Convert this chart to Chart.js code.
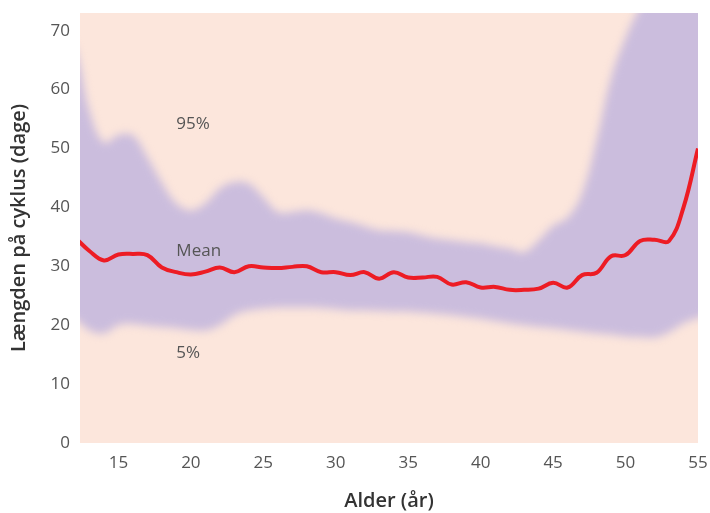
<!DOCTYPE html>
<html>
<head>
<meta charset="utf-8">
<script src="https://cdn.jsdelivr.net/npm/chart.js@4.4.0/dist/chart.umd.min.js"></script>
<style>
  html, body { margin: 0; padding: 0; background: #fff; }
</style>
</head>
<body>
<canvas id="cycleChart" width="710" height="513"></canvas>
<script>
// alder (år)
const ages = [11, 12, 13, 14, 15, 16, 17, 18, 19, 20, 21, 22, 23, 24, 25, 26, 27, 28, 29, 30,
  31, 32, 33, 34, 35, 36, 37, 38, 39, 40, 41, 42, 43, 44, 45, 46, 47, 48, 49, 50,
  51, 52, 53, 54, 55, 56];

// gennemsnitlig cykluslængde
const meanLength = [null, 34.9, 32.6, 31.0, 32.0, 32.1, 31.9, 29.8, 29.0, 28.6, 29.1, 29.8, 29.0, 30.0, 29.8, 29.7, 29.9, 30.0, 29.0, 29.0,
  28.5, 29.0, 27.9, 29.0, 28.1, 28.1, 28.2, 26.9, 27.3, 26.4, 26.5, 26.0, 26.0, 26.2, 27.2, 26.4, 28.5, 28.9, 31.7, 31.9,
  34.3, 34.5, 34.3, 40.0, 50.0, null];

// 95% percentil
const upper95 = [70, 67, 56.4, 51.0, 52.3, 52.2, 48.5, 44.2, 40.7, 39.5, 40.7, 43.2, 44.3, 44.0, 41.7, 39.2, 39.2, 39.5, 39.0, 38.1,
  37.5, 36.8, 36.1, 36.0, 35.8, 35.2, 34.7, 34.4, 34.1, 33.9, 33.4, 33.0, 32.4, 34.4, 36.9, 38.3, 42.4, 51.4, 62.0, 68.8,
  74, 78, 80, 80, 80, 80];

// 5% percentil
const lower5 = [21.5, 21.0, 19.1, 18.6, 20.0, 20.2, 19.9, 19.7, 19.5, 19.2, 19.1, 20.0, 21.7, 22.5, 22.8, 23.0, 23.0, 23.0, 22.9, 22.7,
  22.5, 22.5, 22.4, 22.3, 22.3, 22.1, 21.9, 21.7, 21.4, 21.1, 20.7, 20.3, 20.0, 19.7, 19.5, 19.2, 18.9, 18.6, 18.4, 18.1,
  18.0, 17.9, 18.8, 20.3, 21.2, 22];

const xTicks = [15, 20, 25, 30, 35, 40, 45, 50, 55];
const yTicks = [0, 10, 20, 30, 40, 50, 60, 70];

// tekst inde i plottet (x = alder, y = dage)
const bandLabels = [
  { text: "95%", x: 19, y: 54.1 },
  { text: "Mean", x: 19, y: 32.5 },
  { text: "5%", x: 19, y: 15.3 },
];

const toPoints = (arr) => ages.map((a, i) => ({ x: a, y: arr[i] }));

const fontFamily = "'Open Sans', sans-serif";
const tickColor = "#555";

const plotBackground = {
  id: "plotBackground",
  beforeDraw(chart) {
    const { ctx, chartArea } = chart;
    ctx.save();
    ctx.fillStyle = "#fce6dc";
    ctx.fillRect(chartArea.left, chartArea.top, chartArea.right - chartArea.left, chartArea.bottom - chartArea.top);
    ctx.restore();
  },
};

// blødt blur på båndet, slås fra igen før middelkurven tegnes
const bandBlur = {
  id: "bandBlur",
  beforeDatasetsDraw(chart) {
    chart.ctx.save();
    chart.ctx.filter = "blur(4px)";
  },
  beforeDatasetDraw(chart, args) {
    if (args.index === 0) chart.ctx.restore();
  },
};

const inlineLabels = {
  id: "inlineLabels",
  afterDatasetsDraw(chart) {
    const { ctx, scales } = chart;
    ctx.save();
    ctx.font = "17px " + fontFamily;
    ctx.fillStyle = tickColor;
    ctx.textAlign = "left";
    ctx.textBaseline = "middle";
    bandLabels.forEach((l) => {
      ctx.fillText(l.text, scales.x.getPixelForValue(l.x), scales.y.getPixelForValue(l.y));
    });
    ctx.restore();
  },
};

const ctx = document.getElementById("cycleChart");

new Chart(ctx, {
  type: "line",
  data: {
    datasets: [
      {
        label: "Mean",
        data: toPoints(meanLength),
        borderColor: "#ed1c24",
        borderWidth: 4,
        tension: 0.4,
        fill: false,
      },
      {
        label: "95%",
        data: toPoints(upper95),
        borderWidth: 0,
        borderColor: "rgba(0,0,0,0)",
        backgroundColor: "#cbbddd",
        tension: 0.4,
        fill: "+1",
      },
      {
        label: "5%",
        data: toPoints(lower5),
        borderWidth: 0,
        borderColor: "rgba(0,0,0,0)",
        tension: 0.4,
        fill: false,
      },
    ],
  },
  options: {
    responsive: false,
    animation: false,
    devicePixelRatio: 1,
    layout: { padding: { top: 13, right: 12, left: 0, bottom: 0 } },
    elements: { point: { radius: 0 } },
    plugins: {
      legend: { display: false },
      tooltip: { enabled: false },
    },
    scales: {
      x: {
        type: "linear",
        min: 12.35,
        max: 55,
        grid: { display: false, drawTicks: false },
        border: { display: false },
        afterBuildTicks: (s) => { s.ticks = xTicks.map((v) => ({ value: v })); },
        afterFit: (s) => { s.height = 70; s.paddingLeft = 0; s.paddingRight = 0; },
        ticks: { color: tickColor, font: { family: fontFamily, size: 17 }, padding: 10 },
        title: {
          display: true,
          text: "Alder (år)",
          color: "#333",
          font: { family: fontFamily, size: 20, weight: "600" },
          padding: { top: 0, bottom: 0 },
        },
      },
      y: {
        min: 0,
        max: 73,
        grid: { display: false, drawTicks: false },
        border: { display: false },
        afterBuildTicks: (s) => { s.ticks = yTicks.map((v) => ({ value: v })); },
        afterFit: (s) => { s.width = 80; s.paddingTop = 0; s.paddingBottom = 0; },
        ticks: { color: tickColor, font: { family: fontFamily, size: 17 }, padding: 10 },
        title: {
          display: true,
          text: "Længden på cyklus (dage)",
          color: "#333",
          font: { family: fontFamily, size: 20, weight: "600" },
          padding: { top: 7, bottom: 0 },
        },
      },
    },
  },
  plugins: [plotBackground, bandBlur, inlineLabels],
});
</script>
</body>
</html>
